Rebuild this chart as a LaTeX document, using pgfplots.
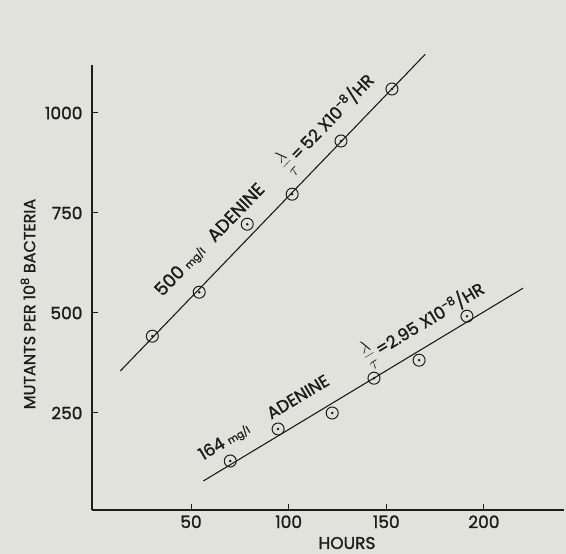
\documentclass[border=0pt]{standalone}
\usepackage{pgfplots}
\pgfplotsset{compat=1.18}
\usepackage{fontspec}
\setmainfont{Poppins}[FakeBold=1.3]
\definecolor{bg}{RGB}{226,226,220}
\definecolor{ink}{RGB}{28,28,28}
\begin{document}
\begin{tikzpicture}
\fill[bg] (0pt,0pt) rectangle (566pt,554pt);
\begin{axis}[
  at={(92pt,44pt)}, anchor=south west,
  scale only axis, width=472pt, height=445pt,
  xmin=-0.7, xmax=241, ymin=7.5, ymax=1120,
  axis x line*=bottom, axis y line*=left,
  axis line style={-, ink, line width=1.1pt},
  xtick={50,100,150,200}, ytick={250,500,750,1000},
  tick align=inside, major tick length=6pt,
  tick style={ink, line width=1pt},
  /pgf/number format/assume math mode=true,
  /pgf/number format/set thousands separator={},
  ticklabel style={font=\fontsize{17}{17}\selectfont, text=ink},
  xticklabel style={yshift=-2pt},
  yticklabel style={xshift=-6pt},
  clip=false,
]
\addplot[ink, line width=1.1pt] coordinates {(13.8,355) (170,1147)};
\addplot[ink, line width=1.1pt] coordinates {(56.3,80) (220,562)};
\addplot[only marks, mark=o, mark size=6pt, ink, mark options={line width=1pt}] coordinates {
(30.2,442) (54.2,552) (78.8,722) (101.8,797) (126.8,930) (152.9,1060)};
\addplot[only marks, mark=*, mark size=1.1pt, ink] coordinates {
(30.2,442) (54.2,552) (78.8,722) (101.8,797) (126.8,930) (152.9,1060)};
\addplot[only marks, mark=o, mark size=6pt, ink, mark options={line width=1pt}] coordinates {
(70.1,130) (94.6,210) (122.3,250) (143.7,337) (166.8,382) (191.3,492)};
\addplot[only marks, mark=*, mark size=1.1pt, ink] coordinates {
(70.1,130) (94.6,210) (122.3,250) (143.7,337) (166.8,382) (191.3,492)};
\node[rotate=46, text=ink, font=\fontsize{18}{18}\selectfont] at (axis cs:59.8,682)
  {500 {\fontsize{10}{10}\selectfont mg/l}\hspace{0.7em}ADENINE};
\node[rotate=46, text=ink, font=\fontsize{17}{17}\selectfont] at (axis cs:119.3,977)
  {{\fontsize{23}{23}\selectfont$\frac{\lambda}{\tau}$}\,=\,52 X10\textsuperscript{-8}/HR};
\node[rotate=31, text=ink, font=\fontsize{17}{17}\selectfont] at (axis cs:87.5,237)
  {164 {\fontsize{10}{10}\selectfont mg/l}\hspace{1.4em}ADENINE};
\node[rotate=31, text=ink, font=\fontsize{17}{17}\selectfont] at (axis cs:168.8,477)
  {{\fontsize{23}{23}\selectfont$\frac{\lambda}{\tau}$}\,=2.95 X10\textsuperscript{-8}/HR};
\end{axis}
\node[rotate=90, text=ink, font=\fontsize{16}{16}\selectfont] at (28pt,250pt)
  {MUTANTS PER 10\textsuperscript{8} BACTERIA};
\node[text=ink, font=\fontsize{17}{17}\selectfont] at (347pt,11pt) {HOURS};
\pgfresetboundingbox
\path (0pt,0pt) rectangle (566pt,554pt);
\end{tikzpicture}
\end{document}
